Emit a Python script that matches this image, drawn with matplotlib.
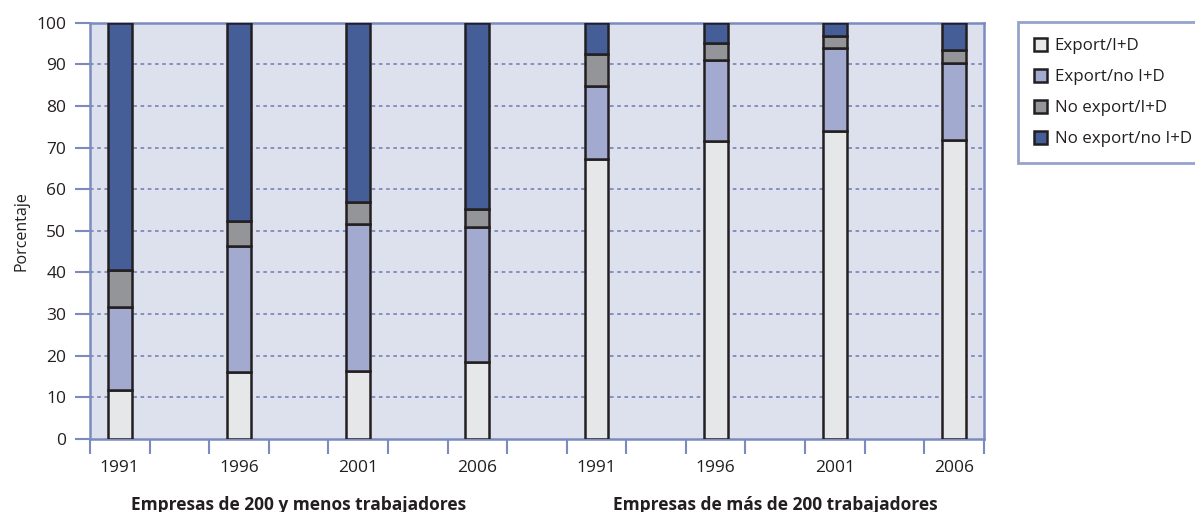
import matplotlib
matplotlib.use("Agg")
import matplotlib.pyplot as plt
import numpy as np

# ── DATA ─────────────────────────────────────────────────────────────────────
# 15 slots on the x axis, bars on the even ones (blank slots are gaps)
slot_labels = ["1991", "", "1996", "", "2001", "", "2006", "",
               "1991", "", "1996", "", "2001", "", "2006"]
bar_slots = [0, 2, 4, 6, 8, 10, 12, 14]

series_names = ["Export/I+D", "Export/no I+D", "No export/I+D", "No export/no I+D"]
export_id    = [11.8, 16.0, 16.4, 18.5, 67.2, 71.5, 74.0, 71.8]
export_no_id = [19.8, 30.3, 35.2, 32.4, 17.5, 19.5, 19.9, 18.6]
noexp_id     = [8.9, 6.0, 5.3, 4.3, 7.8, 4.0, 2.9, 3.1]
noexp_no_id  = [59.5, 47.7, 43.1, 44.8, 7.5, 5.0, 3.2, 6.5]

group_titles = ["Empresas de 200 y menos trabajadores",
                "Empresas de más de 200 trabajadores"]
group_centers = [3, 11]

# ── STYLE ────────────────────────────────────────────────────────────────────
COLORS = ["#e6e7e8", "#a3aacf", "#939598", "#465e98"]
EDGE = "#231f20"
AXIS_BLUE = "#7b8bbf"
BG = "#dde1ee"
FS = 12.5

plt.rcParams["font.family"] = ["Open Sans", "DejaVu Sans"]

fig = plt.figure(figsize=(11.95, 5.12), dpi=100)
ax = fig.add_axes([0.0753, 0.1426, 0.748, 0.8131])
ax.set_facecolor(BG)

series = [export_id, export_no_id, noexp_id, noexp_no_id]
bottom = np.zeros(len(bar_slots))
handles = []
for name, vals, col in zip(series_names, series, COLORS):
    h = ax.bar(bar_slots, vals, width=0.4, bottom=bottom, color=col,
               edgecolor=EDGE, linewidth=1.8, label=name, zorder=3)
    handles.append(h)
    bottom += np.array(vals)

ax.set_xlim(-0.5, len(slot_labels) - 0.5)
ax.set_ylim(0, 100)
ax.set_yticks(np.arange(0, 101, 10))
ax.tick_params(axis="y", length=11, width=1.5, color=AXIS_BLUE,
               labelsize=FS, labelcolor="#231f20", pad=6)

# ticks at slot boundaries, labels under slot centres
ax.set_xticks(np.arange(-0.5, len(slot_labels), 1.0))
ax.set_xticklabels([])
ax.tick_params(axis="x", which="major", length=11, width=1.5, color=AXIS_BLUE)
ax.set_xticks(np.arange(len(slot_labels)), minor=True)
ax.set_xticklabels(slot_labels, minor=True)
ax.tick_params(axis="x", which="minor", length=0, pad=15,
               labelsize=FS, labelcolor="#231f20")

for y in range(10, 100, 10):
    ax.axhline(y, color="#7f88bb", linewidth=1.3, linestyle=(0, (2, 2)), zorder=1)

for sp in ax.spines.values():
    sp.set_color(AXIS_BLUE)
    sp.set_linewidth(1.8)

ax.set_ylabel("Porcentaje", fontsize=11.5, color="#231f20")
ax.yaxis.set_label_coords(-0.068, 0.5)

for title, cx in zip(group_titles, group_centers):
    ax.text(cx, -13.6, title, ha="center", va="top", fontsize=FS,
            fontweight="bold", color="#231f20", clip_on=False)

leg = fig.legend(handles=handles, labels=series_names, loc="upper left",
                 bbox_to_anchor=(0.8515, 0.958), frameon=True, fancybox=False,
                 fontsize=12.2, handlelength=0.8, handleheight=0.8,
                 handletextpad=0.45, labelspacing=0.87, borderpad=0.95,
                 borderaxespad=0)
leg.get_frame().set_edgecolor(AXIS_BLUE)
leg.get_frame().set_linewidth(2)
for t in leg.get_texts():
    t.set_color("#231f20")

fig.savefig("out.png", dpi=100)
